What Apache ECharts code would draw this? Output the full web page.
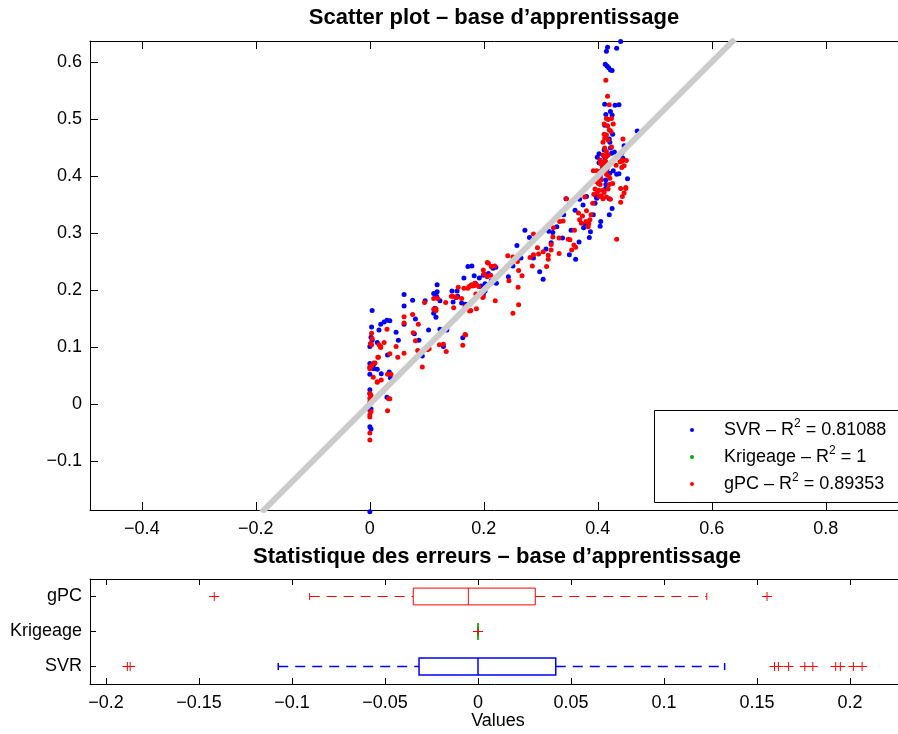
<!DOCTYPE html>
<html><head><meta charset="utf-8">
<script src="https://cdn.jsdelivr.net/npm/echarts@6/dist/echarts.min.js"></script>
<style>html,body{margin:0;padding:0;background:#fff}#chart{width:898px;height:734px}</style>
</head><body><div id="chart"></div>
<script>
// ---------- data: scatter (observed, predicted) ----------
const svrPoints = [
[0.004,0.164],[0.060,0.192],[0.060,0.172],[0.118,0.209],[0.118,0.197],[0.144,0.198],[0.153,0.198],[0.202,0.211],
[0.075,0.182],[0.097,0.181],[0.123,0.181],[0.003,0.135],[0.019,0.140],[0.025,0.144],[0.030,0.147],[0.035,0.146],
[0.016,0.130],[0.046,0.126],[0.060,0.140],[0.080,0.149],[0.103,0.130],[0.112,0.159],[0.116,0.152],[0.123,0.131],
[0.135,0.130],[0.002,0.117],[0.004,0.112],[0.000,0.101],[0.013,0.108],[0.050,0.112],[0.086,0.112],[0.129,0.101],
[0.163,0.116],[0.031,0.086],[0.092,0.084],[0.006,0.063],[0.013,0.061],[0.000,0.052],[0.034,0.056],[0.020,0.053],
[0.036,0.046],[0.000,0.025],[0.030,0.012],[0.002,-0.009],[0.000,-0.040],[0.002,-0.044],[0.000,-0.189],[0.000,0.071],
[0.007,0.070],[0.007,0.062],[0.000,-0.011],[0.000,0.018],[0.168,0.175],[0.146,0.179],[0.154,0.189],[0.185,0.212],
[0.195,0.207],[0.114,0.166],[0.078,0.123],
[0.172,0.241],[0.179,0.242],[0.165,0.221],[0.183,0.225],[0.192,0.221],[0.199,0.226],[0.208,0.229],[0.214,0.241],
[0.216,0.238],[0.205,0.209],[0.213,0.216],[0.202,0.198],[0.112,0.194],[0.117,0.189],[0.151,0.187],[0.161,0.177],
[0.114,0.168],[0.222,0.212],
[0.221,0.240],[0.220,0.213],[0.243,0.223],[0.251,0.242],[0.258,0.278],[0.265,0.256],[0.272,0.305],[0.280,0.292],
[0.287,0.256],[0.298,0.232],[0.304,0.219],[0.309,0.272],[0.314,0.303],[0.318,0.283],[0.321,0.301],[0.328,0.311],
[0.338,0.291],[0.340,0.332],[0.344,0.360],[0.350,0.262],[0.353,0.305],[0.360,0.340],[0.361,0.254],[0.367,0.284],
[0.368,0.359],[0.374,0.349],[0.380,0.364],[0.375,0.309],[0.378,0.316],[0.385,0.292],[0.387,0.302],[0.392,0.332],
[0.395,0.352],[0.398,0.361],[0.399,0.433],[0.402,0.423],[0.404,0.312],[0.405,0.320],[0.406,0.394],[0.412,0.432],
[0.416,0.413],[0.420,0.332],[0.420,0.360],[0.424,0.440],[0.429,0.442],[0.425,0.343],[0.427,0.409],[0.433,0.403],
[0.437,0.404],[0.444,0.431],[0.452,0.395],[0.414,0.385],[0.193,0.206],[0.199,0.193],
[0.412,0.526],[0.430,0.524],[0.437,0.525],[0.414,0.508],[0.422,0.513],[0.425,0.507],[0.412,0.489],[0.426,0.473],
[0.469,0.479],[0.420,0.465],[0.421,0.459],[0.446,0.453],[0.442,0.440],[0.411,0.446],[0.422,0.449],[0.402,0.439],
[0.406,0.422],[0.415,0.411],[0.421,0.405],[0.404,0.400],[0.414,0.393],[0.397,0.364],[0.413,0.377],
[0.440,0.636],[0.433,0.624],[0.417,0.626],[0.415,0.619],[0.413,0.596],[0.416,0.593],[0.419,0.590],[0.422,0.586],
[0.425,0.585]
];
const krigeagePoints = [
[0.000,0.000],[0.050,0.050],[0.100,0.100],[0.150,0.150],[0.200,0.200],[0.250,0.250],[0.300,0.300],
[0.350,0.350],[0.400,0.400],[0.420,0.420],[0.440,0.440]
];
const gpcPoints = [
[0.003,0.124],[0.004,0.115],[0.001,0.106],[0.003,0.104],[0.007,0.072],[0.000,0.064],[0.000,0.062],[0.006,0.047],
[0.013,0.039],[0.020,0.042],[0.014,0.082],[0.016,0.104],[0.019,0.101],[0.025,0.108],[0.030,0.131],[0.060,0.153],
[0.060,0.142],[0.075,0.157],[0.085,0.140],[0.076,0.125],[0.080,0.111],[0.096,0.178],[0.112,0.166],[0.116,0.164],
[0.112,0.185],[0.119,0.185],[0.133,0.178],[0.143,0.189],[0.152,0.187],[0.161,0.185],[0.165,0.203],[0.172,0.203],
[0.178,0.209],[0.183,0.208],[0.187,0.209],[0.191,0.206],[0.186,0.193],[0.189,0.191],[0.198,0.187],[0.175,0.163],
[0.187,0.167],[0.220,0.181],[0.122,0.104],[0.129,0.105],[0.134,0.092],[0.163,0.103],[0.167,0.122],[0.104,0.097],
[0.101,0.095],[0.084,0.094],[0.060,0.089],[0.049,0.082],[0.035,0.088],[0.092,0.065],[0.031,0.052],[0.037,0.052],
[0.035,0.009],[0.031,-0.012],[0.000,0.019],[0.002,0.015],[0.000,0.010],[0.002,-0.013],[0.000,-0.019],[0.000,-0.023],
[0.000,-0.051],[0.000,-0.063],[0.000,0.065],[0.003,0.067],[0.009,0.072],[0.013,0.038],[0.000,0.004],[0.033,0.009],
[0.046,0.101],[0.015,0.082],[0.019,0.099],
[0.208,0.247],[0.219,0.242],[0.199,0.235],[0.206,0.223],[0.174,0.206],[0.180,0.207],[0.184,0.212],[0.155,0.205],
[0.145,0.189],[0.151,0.188],[0.116,0.167],[0.167,0.171],[0.177,0.164],[0.168,0.121],[0.147,0.169],
[0.199,0.188],[0.206,0.248],[0.213,0.241],[0.212,0.226],[0.200,0.228],[0.242,0.260],[0.251,0.258],[0.244,0.216],
[0.251,0.159],[0.261,0.174],[0.259,0.250],[0.261,0.234],[0.267,0.225],[0.260,0.205],[0.281,0.257],[0.287,0.262],
[0.287,0.298],[0.285,0.242],[0.294,0.274],[0.296,0.263],[0.304,0.267],[0.310,0.241],[0.313,0.254],[0.313,0.261],
[0.318,0.270],[0.318,0.280],[0.322,0.309],[0.321,0.293],[0.332,0.291],[0.332,0.264],[0.333,0.320],[0.339,0.321],
[0.345,0.360],[0.348,0.289],[0.351,0.288],[0.354,0.270],[0.358,0.279],[0.359,0.305],[0.361,0.275],[0.366,0.335],
[0.368,0.323],[0.371,0.317],[0.373,0.330],[0.379,0.320],[0.380,0.339],[0.383,0.311],[0.384,0.316],[0.386,0.323],
[0.388,0.332],[0.391,0.352],[0.393,0.368],[0.395,0.377],[0.399,0.372],[0.398,0.391],[0.401,0.387],[0.405,0.394],
[0.404,0.365],[0.406,0.365],[0.409,0.360],[0.411,0.371],[0.405,0.422],[0.408,0.416],[0.414,0.433],[0.418,0.437],
[0.409,0.437],[0.414,0.425],[0.415,0.403],[0.418,0.377],[0.422,0.359],[0.426,0.387],[0.432,0.419],[0.442,0.426],
[0.446,0.418],[0.446,0.370],[0.449,0.378],[0.440,0.354],[0.433,0.289],
[0.417,0.540],[0.420,0.525],[0.415,0.501],[0.418,0.499],[0.424,0.501],[0.411,0.491],[0.417,0.488],[0.427,0.491],
[0.420,0.481],[0.423,0.478],[0.411,0.473],[0.415,0.472],[0.412,0.466],[0.418,0.463],[0.409,0.459],[0.444,0.465],
[0.412,0.449],[0.415,0.443],[0.424,0.451],[0.415,0.435],[0.404,0.428],[0.411,0.425],[0.413,0.418],[0.415,0.411],
[0.450,0.427],[0.443,0.428],[0.442,0.415],[0.439,0.425],[0.392,0.409],[0.398,0.409],[0.406,0.409],[0.402,0.399],
[0.418,0.401],[0.398,0.390],[0.404,0.385],[0.421,0.396],[0.420,0.385],[0.402,0.375],[0.409,0.375],[0.440,0.378],
[0.449,0.380],[0.443,0.364],[0.402,0.364],[0.415,0.363],[0.377,0.363],[0.414,0.568]
];
const diagonalLine = [[-0.19,-0.19],[0.64,0.64]];
const seriesNames = ['SVR','Krigeage','gPC'];
const r2Values = ['0.81088','1','0.89353'];

// ---------- data: error statistics (min whisker, Q1, median, Q3, max whisker) ----------
const boxCategories = ['SVR','Krigeage','gPC'];
const svrBox = [-0.1074,-0.0317,0.0000,0.0418,0.1326];
const krigeageBox = [0,0,0,0,0];
const gpcBox = [-0.0905,-0.0348,-0.0052,0.0308,0.1230];
const svrOutliers = [-0.1885,-0.1870,0.1594,0.1615,0.1670,0.1757,0.1800,0.1923,0.1948,0.2018,0.2065];
const krigeageOutliers = [0];
const gpcOutliers = [-0.1418,0.1554];

// ---------- styles ----------
const FONT = '"Liberation Sans", Arial, Helvetica, sans-serif';
const BLUE = '#0000ff', GREEN = '#00b000', RED = '#ff0000';
const boxColors = [BLUE, GREEN, RED];

function fmtTick(step) {
  return function (v) {
    const r = Math.round(v / step) * step;
    if (Math.abs(v - r) > step * 1e-3) return '';
    const s = parseFloat(r.toFixed(4)).toString();
    return s.replace('-', '\u2212');
  };
}

const boxData = [svrBox, krigeageBox, gpcBox].map((b, i) => [i].concat(b));
const outlierData = [];
[svrOutliers, krigeageOutliers, gpcOutliers].forEach((arr, i) => arr.forEach(v => outlierData.push([v, i])));

function renderBox(params, api) {
  const cat = api.value(0);
  const mn = api.coord([api.value(1), cat]);
  const q1 = api.coord([api.value(2), cat]);
  const md = api.coord([api.value(3), cat]);
  const q3 = api.coord([api.value(4), cat]);
  const mx = api.coord([api.value(5), cat]);
  const band = api.size([0, 1])[1];
  const h = band * 0.24, cap = band * 0.1;
  const y = mn[1];
  const c = boxColors[cat];
  const lw = cat === 0 ? 1.5 : 1;
  const solid = { stroke: c, lineWidth: lw, fill: null };
  const dashed = { stroke: c, lineWidth: lw, lineDash: [10, 7] };
  return { type: 'group', children: [
    { type: 'line', shape: { x1: mn[0], y1: y, x2: q1[0], y2: y }, style: dashed },
    { type: 'line', shape: { x1: q3[0], y1: y, x2: mx[0], y2: y }, style: dashed },
    { type: 'line', shape: { x1: mn[0], y1: y - cap, x2: mn[0], y2: y + cap }, style: solid },
    { type: 'line', shape: { x1: mx[0], y1: y - cap, x2: mx[0], y2: y + cap }, style: solid },
    { type: 'rect', shape: { x: q1[0], y: y - h, width: q3[0] - q1[0], height: 2 * h }, style: { stroke: c, lineWidth: lw, fill: 'none' } },
    { type: 'line', shape: { x1: md[0], y1: y - h, x2: md[0], y2: y + h }, style: solid }
  ]};
}
function renderPlus(params, api) {
  const p = api.coord([api.value(0), api.value(1)]);
  const st = { stroke: RED, lineWidth: 1 };
  return { type: 'group', children: [
    { type: 'line', shape: { x1: p[0] - 5, y1: p[1], x2: p[0] + 5, y2: p[1] }, style: st },
    { type: 'line', shape: { x1: p[0], y1: p[1] - 4.5, x2: p[0], y2: p[1] + 4.5 }, style: st }
  ]};
}

const axisLineBlack = { show: true, onZero: false, lineStyle: { color: '#000', width: 1 } };
const lblStyle = { fontSize: 18, fontFamily: FONT, color: '#000' };

function valAxis(grid, pos, min, max, split, step, tickLen, showLabel, margin) {
  return {
    type: 'value', gridIndex: grid, position: pos, min: min, max: max, splitNumber: split,
    axisLine: axisLineBlack,
    axisTick: { show: true, inside: true, length: tickLen, lineStyle: { color: '#000' } },
    axisLabel: Object.assign({ show: showLabel, margin: margin, formatter: fmtTick(step), showMinLabel: false, showMaxLabel: false }, lblStyle),
    splitLine: { show: false }
  };
}

const chart = echarts.init(document.getElementById('chart'), null, { renderer: 'canvas' });
chart.setOption({
  animation: false,
  backgroundColor: '#fff',
  grid: [
    { left: 90, top: 41, width: 816, height: 469, outerBoundsMode: 'none', containLabel: false },
    { left: 90, top: 579, width: 816, height: 105, outerBoundsMode: 'none', containLabel: false }
  ],
  xAxis: [
    valAxis(0, 'bottom', -0.491, 0.9406, 7, 0.2, 8, true, 10),
    valAxis(0, 'top', -0.491, 0.9406, 7, 0.2, 8, false, 10),
    valAxis(1, 'bottom', -0.2086, 0.2301, 9, 0.05, 6, true, 10),
    valAxis(1, 'top', -0.2086, 0.2301, 9, 0.05, 6, false, 10)
  ],
  yAxis: [
    valAxis(0, 'left', -0.186, 0.6368, 8, 0.1, 8, true, 8),
    valAxis(0, 'right', -0.186, 0.6368, 8, 0.1, 8, false, 8),
    { type: 'category', gridIndex: 1, position: 'left', data: boxCategories,
      axisLine: axisLineBlack,
      axisTick: { show: true, inside: true, length: 6, alignWithLabel: true, lineStyle: { color: '#000' } },
      axisLabel: Object.assign({ margin: 8 }, lblStyle), splitLine: { show: false } },
    { type: 'category', gridIndex: 1, position: 'right', data: boxCategories,
      axisLine: axisLineBlack,
      axisTick: { show: true, inside: true, length: 6, alignWithLabel: true, lineStyle: { color: '#000' } },
      axisLabel: { show: false }, splitLine: { show: false } }
  ],
  legend: {
    data: seriesNames, orient: 'vertical', left: 690, top: 418, padding: 0, itemGap: 3,
    itemWidth: 54, itemHeight: 4, icon: 'circle', selectedMode: false, z: 5,
    formatter: name => name + ' \u2013 R{sup|2} = ' + r2Values[seriesNames.indexOf(name)],
    textStyle: { fontSize: 18, fontFamily: FONT, color: '#000', lineHeight: 24,
      rich: { sup: { fontSize: 12, lineHeight: 12, verticalAlign: 'top', fontFamily: FONT, color: '#000' } } }
  },
  graphic: [
    { type: 'rect', z: 3, shape: { x: 654.5, y: 410.5, width: 260, height: 92 }, style: { fill: '#fff', stroke: '#000', lineWidth: 1 } },
    { type: 'text', x: 494, y: 18, style: { text: 'Scatter plot \u2013 base d\u2019apprentissage', font: 'bold 22px ' + FONT, fill: '#000', textAlign: 'center', align: 'center', textVerticalAlign: 'middle', verticalAlign: 'middle' } },
    { type: 'text', x: 497, y: 557, style: { text: 'Statistique des erreurs \u2013 base d\u2019apprentissage', font: 'bold 22px ' + FONT, fill: '#000', textAlign: 'center', align: 'center', textVerticalAlign: 'middle', verticalAlign: 'middle' } },
    { type: 'text', x: 498, y: 721, style: { text: 'Values', font: '18px ' + FONT, fill: '#000', textAlign: 'center', align: 'center', textVerticalAlign: 'middle', verticalAlign: 'middle' } }
  ],
  series: [
    { name: 'SVR', type: 'scatter', xAxisIndex: 0, yAxisIndex: 0, data: svrPoints, symbolSize: 5, clip: false, itemStyle: { color: BLUE, opacity: 1 } },
    { name: 'Krigeage', type: 'scatter', xAxisIndex: 0, yAxisIndex: 0, data: krigeagePoints, symbolSize: 5, itemStyle: { color: GREEN, opacity: 1 } },
    { name: 'gPC', type: 'scatter', xAxisIndex: 0, yAxisIndex: 0, data: gpcPoints, symbolSize: 5, itemStyle: { color: RED, opacity: 1 } },
    { type: 'line', xAxisIndex: 0, yAxisIndex: 0, data: diagonalLine, symbol: 'none', silent: true, clip: true,
      lineStyle: { color: '#cbcbcb', width: 6 } },
    { type: 'custom', xAxisIndex: 2, yAxisIndex: 2, data: boxData, renderItem: renderBox, silent: true,
      encode: { x: [1, 2, 3, 4, 5], y: 0 } },
    { type: 'custom', xAxisIndex: 2, yAxisIndex: 2, data: outlierData, renderItem: renderPlus, silent: true,
      encode: { x: 0, y: 1 }, z: 3 }
  ]
});
</script>
</body></html>
